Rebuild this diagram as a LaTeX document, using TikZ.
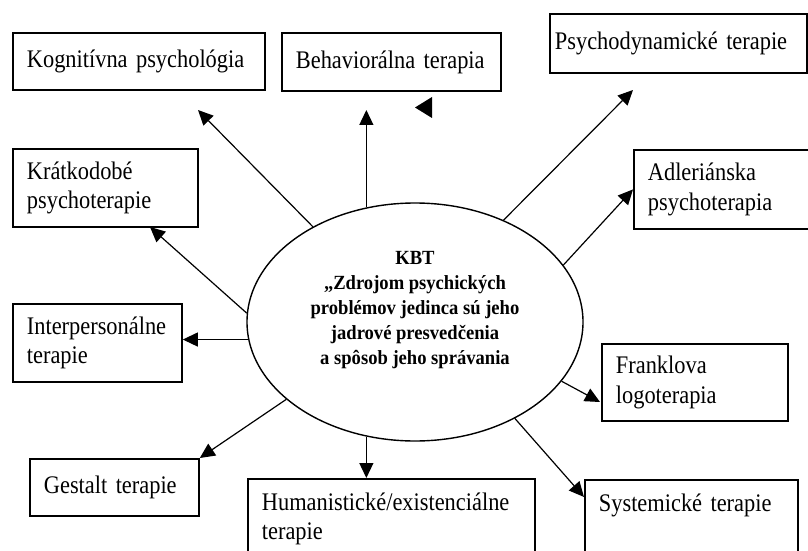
\documentclass[tikz,border=0pt]{standalone}
\usepackage{fontspec}
\setmainfont{Liberation Serif}
\newfontfamily\boxfont{Liberation Serif}[FakeStretch=0.885]
\newfontfamily\kbtfont{Liberation Serif}[FakeStretch=0.925]
\newcommand\boxtext{\boxfont\fontsize{12.65}{14.8}\selectfont\spaceskip=0.22em plus 0.1em minus 0.05em\relax}
\newcommand\kbttext{\kbtfont\fontsize{10.05}{12.5}\selectfont\bfseries\spaceskip=0.23em plus 0.1em minus 0.05em\relax}
\usetikzlibrary{shapes.geometric,arrows.meta}

\begin{document}
\begin{tikzpicture}[x=0.5pt,y=-0.5pt,
  box/.style={draw, line width=0.9pt, anchor=north west, align=left, inner xsep=7pt, inner ysep=0pt, font=\boxtext},
  arr/.style={line width=0.6pt, -{Triangle[length=7.5pt,width=7pt]}}]
\useasboundingbox (0,0) rectangle (808,551);
\clip (0,0) rectangle (808,551);

% --- KBT ellipse ---
\node[draw, ellipse, line width=0.7pt, minimum width=168pt, minimum height=119pt, inner sep=0pt] (kbt) at (415,322) {};
\node[align=center, font=\kbttext] (kbt-text) at (415,310) {KBT\\„Zdrojom psychických\\problémov jedinca sú jeho\\jadrové presvedčenia\\a spôsob jeho správania};

% --- therapy boxes ---
\node[box, text width=112pt, minimum height=28.5pt] (kog) at (12,32) {Kognitívna psychológia};
\node[box, text width=95.5pt, minimum height=29pt] (beh) at (281,32) {Behaviorálna terapia};
\node[box, inner xsep=2.5pt, text width=123.5pt, minimum height=29.5pt] (psy) at (549,13) {Psychodynamické terapie};
\node[box, text width=78.5pt, minimum height=39pt] (kra) at (12,148) {Krátkodobé\\psychoterapie};
\node[box, text width=76pt, minimum height=39.5pt] (adl) at (633,149) {Adleriánska\\psychoterapia};
\node[box, text width=70.5pt, minimum height=39pt] (int) at (12,303) {Interpersonálne\\terapie};
\node[box, text width=79pt, minimum height=38.5pt] (fra) at (601,343) {Franklova\\logoterapia};
\node[box, text width=70.5pt, minimum height=28.5pt] (ges) at (29,458) {Gestalt terapie};
\node[box, text width=129.5pt, minimum height=40pt] (hum) at (247,478) {Humanistické/existenciálne\\terapie};
\node[box, text width=92.5pt, inner ysep=7pt, text height=9pt, text depth=28pt] (sys) at (584,479) {Systemické terapie};

% --- arrows ---
\coordinate (kog-tip) at (198,110);
\coordinate (beh-tip) at (365,110);
\coordinate (psy-tip) at (633,90);
\coordinate (kra-tip) at (150,227);
\coordinate (fra-tip) at (600,402);
\coordinate (sys-tip) at (584,497);
\foreach \a/\t in {137/kog-tip, 49/psy-tip, 21/adl.west, 177/kra-tip, 338/fra-tip, 211/ges.north east, 316/sys-tip}
  \draw[arr] (kbt.\a) -- (\t);
\draw[arr] (kbt.113) -- (kbt.113 |- beh-tip);
\draw[arr] (kbt.186) -- (kbt.186 -| int.east);
\draw[arr] (kbt.247) -- (kbt.247 |- hum.north);

% stray arrow head
\fill (432,97) -- (415,107.5) -- (432,118) -- cycle;
\end{tikzpicture}
\end{document}
